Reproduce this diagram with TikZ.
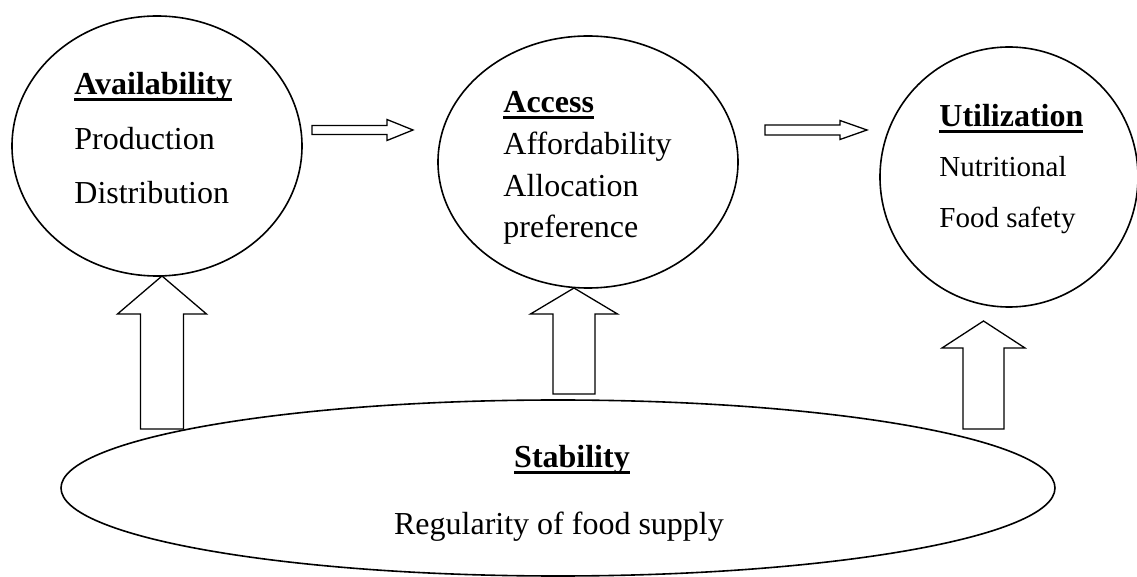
\documentclass[tikz,border=0pt]{standalone}
\usepackage{fontspec}
\setmainfont{Liberation Serif}
\usetikzlibrary{shapes.geometric,calc}
\tikzset{
  ring/.style={ellipse,draw,line width=0.8pt,inner sep=0pt},
  txt/.style={inner sep=0pt,anchor=base west,font=\fontsize{16}{19}\selectfont},
  txtsm/.style={txt,font=\fontsize{14.5}{17}\selectfont},
  blk/.style={draw,fill=white,line width=0.65pt,line join=miter}
}
\newsavebox{\headbox}
\newcommand{\ulhead}[1]{\sbox{\headbox}{\bfseries #1}\rlap{\rule[-3.2pt]{\wd\headbox}{1.7pt}}\usebox{\headbox}}
% block arrow up: tip, half head, head length, half shaft, length
\newcommand{\upblk}[5]{\draw[blk] (#1) -- ++(#2,#3) -- ++({#4-#2},0) -- ++(0,{#5-#3}) -- ++({-2*#4},0) -- ++(0,{#3-#5}) -- ++({#4-#2},0) -- cycle;}
% block arrow right: tip, half head, head length, half shaft, length
\newcommand{\rtblk}[5]{\draw[blk] (#1) -- ++(-#3,#2) -- ++(0,{#4-#2}) -- ++({#3-#5},0) -- ++(0,{-2*#4}) -- ++({#5-#3},0) -- ++(0,{#4-#2}) -- cycle;}
\begin{document}
\begin{tikzpicture}[x=0.5pt,y=-0.5pt]
\useasboundingbox (0,0) rectangle (1137,577);
% the three pillars
\node[ring,minimum width=145pt,minimum height=130pt] (avail) at (157,146) {};
\node[ring,minimum width=150pt,minimum height=126pt] (access) at (588,162) {};
\node[ring,minimum width=129pt,minimum height=130pt] (util) at (1009,177) {};
% stability underneath
\node[ring,minimum width=497pt,minimum height=88pt] (stab) at (558,488) {};
% texts
\node[txt] (availH) at (74,95) {\ulhead{Availability}};
\node[txt] (availA) at (74,150) {Production};
\node[txt] (availB) at (74,204) {Distribution};
\node[txt] (accessH) at (503,113) {\ulhead{Access}};
\node[txt] (accessA) at (503,155) {Affordability};
\node[txt] (accessB) at (503,197) {Allocation};
\node[txt] (accessC) at (503,238) {preference};
\node[txt] (utilH) at (939,127) {\ulhead{Utilization}};
\node[txtsm] (utilA) at (939,177) {Nutritional};
\node[txtsm] (utilB) at (939,228) {Food safety};
\node[txt,anchor=base] (stabH) at (572,468) {\ulhead{Stability}};
\node[txt,anchor=base] (stabA) at (559,535) {Regularity of food supply};
% flow between pillars
\coordinate (r1) at (413,130);
\coordinate (r2) at (867,130);
\rtblk{r1}{10.5}{26}{4.5}{101}
\rtblk{r2}{9.5}{27}{5}{102}
% support from stability
\coordinate (u1) at (162,276);
\coordinate (u2) at (574,288);
\coordinate (u3) at (983.5,321);
\upblk{u1}{44.5}{38}{21.5}{153}
\upblk{u2}{43.5}{26}{21}{106}
\upblk{u3}{41.5}{27}{20.5}{108}
\end{tikzpicture}
\end{document}
